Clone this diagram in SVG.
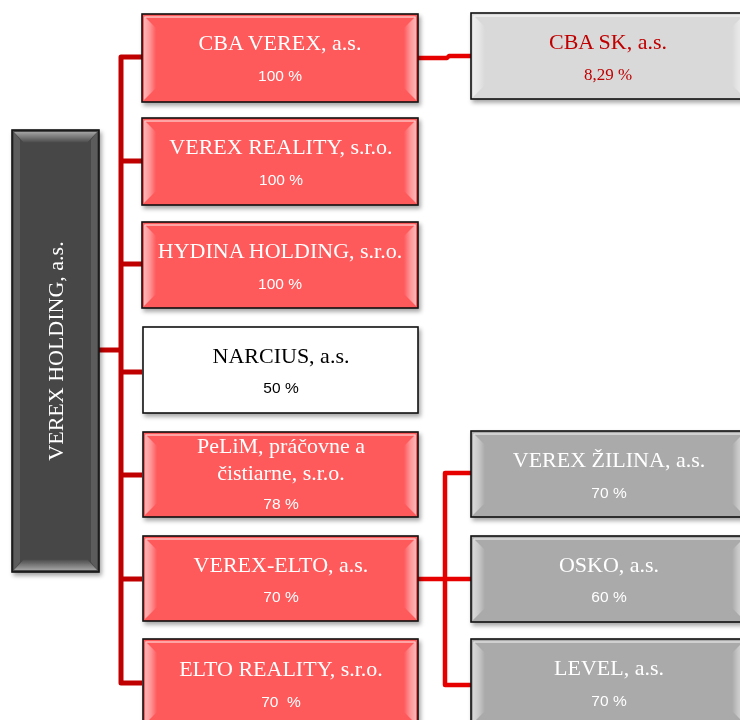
<svg xmlns="http://www.w3.org/2000/svg" width="740" height="720" viewBox="0 0 740 720">
<style>
.box{stroke:#111;stroke-width:1.6}
.red .box{fill:#fe5a5c}
.grey .box{fill:#aaaaaa}
.light .box{fill:#d9d9d9}
.white .box{fill:#ffffff}
.dark .box{fill:#464646}
.bev{fill:url(#bevH);}
.bevR{fill:url(#bevHR);}
.hl{stroke:#fff;stroke-opacity:0.45;stroke-width:2;fill:none}
.t{font-family:"Liberation Serif","Times New Roman",serif;font-size:22px;text-anchor:middle;fill:#fff}
.p{font-family:"Liberation Sans",Arial,sans-serif;font-size:15.5px;text-anchor:middle;fill:#fff}
.white .t,.white .p{fill:#000}
.light .t,.light .p{fill:#c00000}
.light .p{font-family:"Liberation Serif","Times New Roman",serif;font-size:17px}
.bus{fill:none;stroke:#c00000;stroke-width:5;stroke-linejoin:round}
.bus2{fill:none;stroke:#e60000;stroke-width:4.5;stroke-linejoin:round}
</style>
<defs>
<filter id="sh" x="-10%" y="-10%" width="130%" height="130%">
<feDropShadow dx="2" dy="3" stdDeviation="2" flood-color="#000" flood-opacity="0.35"/>
</filter>
<linearGradient id="bevH" x1="0" y1="0" x2="1" y2="0">
<stop offset="0" stop-color="#fff" stop-opacity="0.55"/>
<stop offset="0.5" stop-color="#fff" stop-opacity="0.35"/>
<stop offset="1" stop-color="#fff" stop-opacity="0"/>
</linearGradient>
<linearGradient id="bevHR" x1="1" y1="0" x2="0" y2="0">
<stop offset="0" stop-color="#fff" stop-opacity="0.55"/>
<stop offset="0.5" stop-color="#fff" stop-opacity="0.35"/>
<stop offset="1" stop-color="#fff" stop-opacity="0"/>
</linearGradient>
<linearGradient id="bevV" x1="0" y1="0" x2="0" y2="1">
<stop offset="0" stop-color="#fff" stop-opacity="0.5"/>
<stop offset="1" stop-color="#fff" stop-opacity="0"/>
</linearGradient>
<linearGradient id="bevVB" x1="0" y1="1" x2="0" y2="0">
<stop offset="0" stop-color="#fff" stop-opacity="0.5"/>
<stop offset="1" stop-color="#fff" stop-opacity="0"/>
</linearGradient>
</defs>
<rect width="740" height="720" fill="#fff"/>

<g id="connectors">
<path class="bus" d="M99 350 H121"/>
<path class="bus" d="M142 57 H121 V683 H142"/>
<path class="bus" d="M121 161 H142 M121 264 H142 M121 372 H142 M121 475 H142 M121 579 H142"/>
<path class="bus2" d="M418 58 H447 L449 56 H471"/>
<path class="bus2" d="M418 579 H471 M471 473 H445 V685 H471"/>
</g>

<g id="verex-holding" class="dark" filter="url(#sh)">
<rect class="box" x="12" y="130" width="87" height="442"/>
<path d="M14 132 L97 132 L87 143 L24 143 Z" fill="url(#bevV)"/>
<path d="M14 570 L97 570 L87 559 L24 559 Z" fill="url(#bevVB)"/>
<path d="M14 132 L20 140 L20 562 L14 570 Z" fill="#fff" fill-opacity="0.12"/>
<path d="M97 132 L91 140 L91 562 L97 570 Z" fill="#fff" fill-opacity="0.12"/>
<text class="t" transform="translate(63 351) rotate(-90)">VEREX HOLDING, a.s.</text>
</g>

<g id="cba-verex" class="red" filter="url(#sh)">
<rect class="box" x="142" y="14" width="276" height="88"/>
<path class="bev" d="M144 16 L156 28 L156 88 L144 100 Z"/>
<path class="bevR" d="M416 16 L404 28 L404 88 L416 100 Z"/>
<path class="hl" d="M145 17 H415"/>
<text class="t" x="280" y="50">CBA VEREX, a.s.</text>
<text class="p" x="280" y="81">100 %</text>
</g>

<g id="verex-reality" class="red" filter="url(#sh)">
<rect class="box" x="142" y="118" width="276" height="87"/>
<path class="bev" d="M144 120 L156 132 L156 191 L144 203 Z"/>
<path class="bevR" d="M416 120 L404 132 L404 191 L416 203 Z"/>
<path class="hl" d="M145 121 H415"/>
<text class="t" x="281" y="154">VEREX REALITY, s.r.o.</text>
<text class="p" x="281" y="185">100 %</text>
</g>

<g id="hydina-holding" class="red" filter="url(#sh)">
<rect class="box" x="142" y="222" width="276" height="86"/>
<path class="bev" d="M144 224 L156 236 L156 294 L144 306 Z"/>
<path class="bevR" d="M416 224 L404 236 L404 294 L416 306 Z"/>
<path class="hl" d="M145 225 H415"/>
<text class="t" x="280" y="258">HYDINA HOLDING, s.r.o.</text>
<text class="p" x="280" y="289">100 %</text>
</g>

<g id="narcius" class="white" filter="url(#sh)">
<rect class="box" x="143" y="327" width="275" height="86"/>
<text class="t" x="281" y="363">NARCIUS, a.s.</text>
<text class="p" x="281" y="393">50 %</text>
</g>

<g id="pelim" class="red" filter="url(#sh)">
<rect class="box" x="143" y="432" width="275" height="85"/>
<path class="bev" d="M145 434 L157 446 L157 503 L145 515 Z"/>
<path class="bevR" d="M416 434 L404 446 L404 503 L416 515 Z"/>
<path class="hl" d="M146 435 H415"/>
<text class="t" x="281" y="453">PeLiM, práčovne a</text>
<text class="t" x="281" y="480">čistiarne, s.r.o.</text>
<text class="p" x="281" y="509">78 %</text>
</g>

<g id="verex-elto" class="red" filter="url(#sh)">
<rect class="box" x="143" y="536" width="275" height="85"/>
<path class="bev" d="M145 538 L157 550 L157 607 L145 619 Z"/>
<path class="bevR" d="M416 538 L404 550 L404 607 L416 619 Z"/>
<path class="hl" d="M146 539 H415"/>
<text class="t" x="281" y="572">VEREX-ELTO, a.s.</text>
<text class="p" x="281" y="602">70 %</text>
</g>

<g id="elto-reality" class="red" filter="url(#sh)">
<rect class="box" x="143" y="639" width="275" height="86"/>
<path class="bev" d="M145 641 L157 653 L157 712 L145 724 Z"/>
<path class="bevR" d="M416 641 L404 653 L404 712 L416 724 Z"/>
<path class="hl" d="M146 642 H415"/>
<text class="t" x="281" y="676">ELTO REALITY, s.r.o.</text>
<text class="p" x="281" y="707" xml:space="preserve">70  %</text>
</g>

<g id="cba-sk" class="light" filter="url(#sh)">
<rect class="box" x="471" y="13" width="275" height="86"/>
<path class="bev" d="M473 15 L485 27 L485 85 L473 97 Z"/>
<path class="bevR" d="M744 15 L732 27 L732 85 L744 97 Z"/>
<path class="hl" d="M474 16 H743"/>
<text class="t" x="608" y="49">CBA SK, a.s.</text>
<text class="p" x="608" y="80">8,29 %</text>
</g>

<g id="verex-zilina" class="grey" filter="url(#sh)">
<rect class="box" x="471" y="431" width="275" height="86"/>
<path class="bev" d="M473 433 L485 445 L485 503 L473 515 Z"/>
<path class="bevR" d="M744 433 L732 445 L732 503 L744 515 Z"/>
<path class="hl" d="M474 434 H743"/>
<text class="t" x="609" y="467">VEREX ŽILINA, a.s.</text>
<text class="p" x="609" y="498">70 %</text>
</g>

<g id="osko" class="grey" filter="url(#sh)">
<rect class="box" x="471" y="536" width="275" height="86"/>
<path class="bev" d="M473 538 L485 550 L485 608 L473 620 Z"/>
<path class="bevR" d="M744 538 L732 550 L732 608 L744 620 Z"/>
<path class="hl" d="M474 539 H743"/>
<text class="t" x="609" y="572">OSKO, a.s.</text>
<text class="p" x="609" y="602">60 %</text>
</g>

<g id="level" class="grey" filter="url(#sh)">
<rect class="box" x="471" y="639" width="275" height="86"/>
<path class="bev" d="M473 641 L485 653 L485 711 L473 723 Z"/>
<path class="bevR" d="M744 641 L732 653 L732 711 L744 723 Z"/>
<path class="hl" d="M474 642 H743"/>
<text class="t" x="609" y="675">LEVEL, a.s.</text>
<text class="p" x="609" y="706">70 %</text>
</g>
</svg>
